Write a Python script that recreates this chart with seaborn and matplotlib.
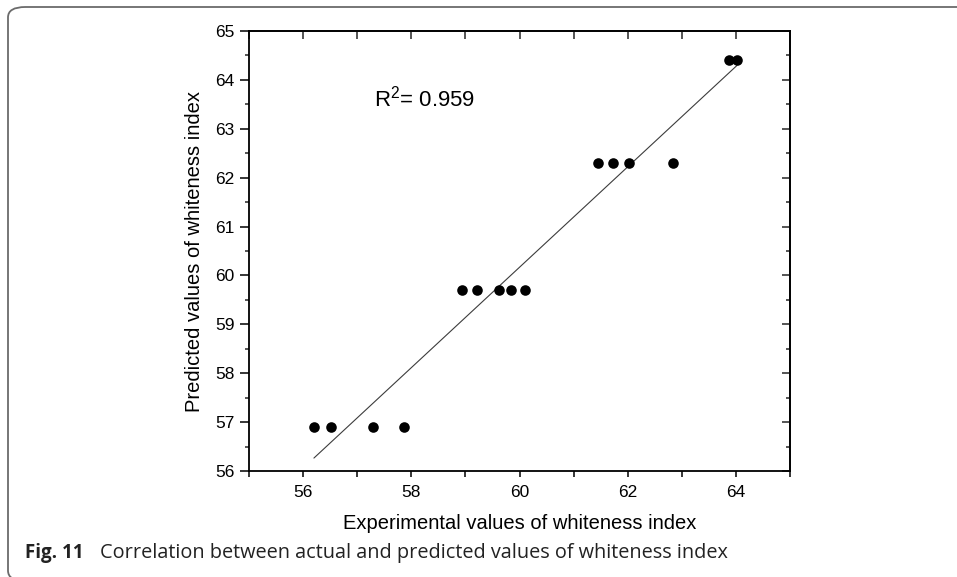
import matplotlib
matplotlib.use("Agg")
import matplotlib.pyplot as plt
from matplotlib.patches import FancyBboxPatch
from matplotlib.ticker import MultipleLocator, NullFormatter, FixedLocator
import pandas as pd
import seaborn as sns

# Whiteness index: measured (experimental) vs model-predicted values
experimental = [56.20, 56.51, 57.29, 57.87,
                58.94, 59.22, 59.63, 59.84, 60.10,
                61.45, 61.73, 62.03, 62.84,
                63.88, 64.02]
predicted = [56.9, 56.9, 56.9, 56.9,
             59.7, 59.7, 59.7, 59.7, 59.7,
             62.3, 62.3, 62.3, 62.3,
             64.4, 64.4]
r_squared = 0.959

x_ticks = [56, 58, 60, 62, 64]
x_tick_labels = ["56", "58", "60", "62", "64"]
y_ticks = [56, 57, 58, 59, 60, 61, 62, 63, 64, 65]
y_tick_labels = ["56", "57", "58", "59", "60", "61", "62", "63", "64", "65"]

x_label = "Experimental values of whiteness index"
y_label = "Predicted values of whiteness index"
caption_tag = "Fig. 11"
caption_text = "Correlation between actual and predicted values of whiteness index"

sns.set_style("ticks")
plt.rcParams["font.family"] = ["Liberation Sans", "DejaVu Sans"]
plt.rcParams["mathtext.fontset"] = "custom"
plt.rcParams["mathtext.rm"] = "Liberation Sans"
plt.rcParams["mathtext.it"] = "Liberation Sans:italic"
plt.rcParams["mathtext.bf"] = "Liberation Sans:bold"

W, H = 957, 577
fig = plt.figure(figsize=(W / 100, H / 100), dpi=100)
fig.patch.set_facecolor("white")

# Rounded caption frame (only top and left edges fall inside the canvas)
frame = FancyBboxPatch((8 / W, -4 / H), 1.2, (H - 7 + 4) / H,
                       boxstyle="round,pad=0,rounding_size=0.018",
                       transform=fig.transFigure, facecolor="none",
                       edgecolor="#6b6b6b", linewidth=1.3, clip_on=False)
fig.patches.append(frame)

L, R, T, B = 249, 790, 31, 471
ax = fig.add_axes([L / W, 1 - B / H, (R - L) / W, (B - T) / H])

df = pd.DataFrame({"experimental": experimental, "predicted": predicted})
sns.regplot(data=df, x="experimental", y="predicted", ax=ax, ci=None,
            truncate=True,
            scatter_kws=dict(s=58, color="black", linewidths=0, alpha=1, zorder=3),
            line_kws=dict(color="#3c3c3c", lw=0.8, zorder=2))

ax.set_xlim(55, 65)
ax.set_ylim(56, 65)
ax.set_xlabel("")
ax.set_ylabel("")

ax.xaxis.set_major_locator(FixedLocator(x_ticks))
ax.set_xticklabels(x_tick_labels)
ax.xaxis.set_minor_locator(MultipleLocator(1))
ax.yaxis.set_major_locator(FixedLocator(y_ticks))
ax.set_yticklabels(y_tick_labels)
ax.yaxis.set_minor_locator(MultipleLocator(0.5))

for s in ax.spines.values():
    s.set_visible(True)
    s.set_linewidth(1.3)
    s.set_color("black")

ax.tick_params(axis="x", which="both", direction="out", length=4, width=1.1,
               pad=6, labelsize=12.5, colors="black", top=False)
ax.tick_params(axis="y", which="major", direction="out", length=6.5, width=1.1,
               pad=4, labelsize=12.5, colors="black", right=False)
ax.tick_params(axis="y", which="minor", direction="out", length=3, width=1.1,
               right=False)

# Mirror axes: inward ticks on top and right, no labels
top = ax.secondary_xaxis("top")
top.xaxis.set_major_locator(MultipleLocator(1))
top.xaxis.set_major_formatter(NullFormatter())
top.tick_params(axis="x", which="major", direction="in", length=5.8, width=1.1)
top.spines["top"].set_linewidth(1.3)

right = ax.secondary_yaxis("right")
right.yaxis.set_major_locator(MultipleLocator(1))
right.yaxis.set_minor_locator(MultipleLocator(0.5))
right.yaxis.set_major_formatter(NullFormatter())
right.yaxis.set_minor_formatter(NullFormatter())
right.tick_params(axis="y", which="major", direction="in", length=5.8, width=1.1)
right.tick_params(axis="y", which="minor", direction="in", length=3, width=1.1)
right.spines["right"].set_linewidth(1.3)

ax.text(57.31, 63.45, r"R$^{\mathregular{2}}$= " + f"{r_squared:.3f}",
        ha="left", va="baseline", fontsize=16, color="black")

fig.text(519.5 / W, 1 - 529 / H, x_label, ha="center", va="baseline",
         fontsize=14.5, color="black")
fig.text(195 / W, 1 - 251 / H, y_label, rotation=90, ha="center",
         va="center", fontsize=14.5, color="black")

fig.text(25 / W, 1 - 558 / H, caption_tag, ha="left", va="baseline",
         fontsize=13.5, fontweight="bold", family=["Open Sans", "DejaVu Sans"],
         color="#222222")
fig.text(100 / W, 1 - 558 / H, caption_text, ha="left", va="baseline",
         fontsize=14.3, family=["Open Sans", "DejaVu Sans"], color="#222222")

fig.savefig("out.png", dpi=100, facecolor="white")
